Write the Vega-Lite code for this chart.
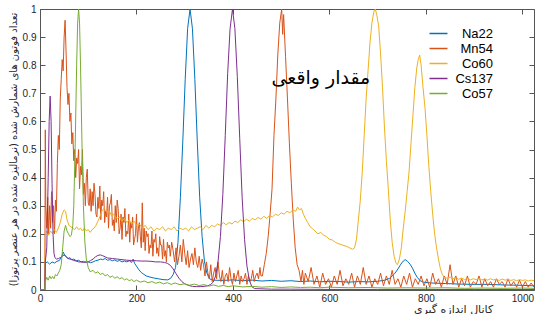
{
"$schema": "https://vega.github.io/schema/vega-lite/v6.json",
"width": 494, "height": 281,
"autosize": {"type": "none"},
"padding": {"left": 40, "top": 9, "right": 6, "bottom": 24},
"background": "white",
"config": {"view": {"stroke": null}, "font": "Liberation Sans"},
"datasets": {
"spectra": [
{"series":"Na22","x":0,"y":0},{"series":"Na22","x":10,"y":0},{"series":"Na22","x":11,"y":0.095},{"series":"Na22","x":15,"y":0.1},{"series":"Na22","x":20,"y":0.092},{"series":"Na22","x":25,"y":0.1},{"series":"Na22","x":30,"y":0.096},{"series":"Na22","x":35,"y":0.102},{"series":"Na22","x":40,"y":0.105},{"series":"Na22","x":45,"y":0.118},{"series":"Na22","x":48,"y":0.135},{"series":"Na22","x":51,"y":0.125},{"series":"Na22","x":54,"y":0.12},{"series":"Na22","x":58,"y":0.112},{"series":"Na22","x":62,"y":0.115},{"series":"Na22","x":66,"y":0.108},{"series":"Na22","x":70,"y":0.11},{"series":"Na22","x":75,"y":0.104},{"series":"Na22","x":80,"y":0.106},{"series":"Na22","x":85,"y":0.1},{"series":"Na22","x":90,"y":0.102},{"series":"Na22","x":95,"y":0.098},{"series":"Na22","x":100,"y":0.1},{"series":"Na22","x":105,"y":0.097},{"series":"Na22","x":110,"y":0.1},{"series":"Na22","x":115,"y":0.104},{"series":"Na22","x":120,"y":0.106},{"series":"Na22","x":125,"y":0.11},{"series":"Na22","x":130,"y":0.108},{"series":"Na22","x":135,"y":0.112},{"series":"Na22","x":140,"y":0.106},{"series":"Na22","x":145,"y":0.108},{"series":"Na22","x":150,"y":0.104},{"series":"Na22","x":155,"y":0.107},{"series":"Na22","x":160,"y":0.102},{"series":"Na22","x":165,"y":0.105},{"series":"Na22","x":170,"y":0.1},{"series":"Na22","x":175,"y":0.103},{"series":"Na22","x":180,"y":0.1},{"series":"Na22","x":185,"y":0.104},{"series":"Na22","x":190,"y":0.098},{"series":"Na22","x":193,"y":0.11},{"series":"Na22","x":196,"y":0.095},{"series":"Na22","x":200,"y":0.085},{"series":"Na22","x":205,"y":0.072},{"series":"Na22","x":210,"y":0.062},{"series":"Na22","x":215,"y":0.056},{"series":"Na22","x":220,"y":0.05},{"series":"Na22","x":228,"y":0.046},{"series":"Na22","x":235,"y":0.043},{"series":"Na22","x":245,"y":0.04},{"series":"Na22","x":255,"y":0.037},{"series":"Na22","x":265,"y":0.036},{"series":"Na22","x":271,"y":0.042},{"series":"Na22","x":276,"y":0.055},{"series":"Na22","x":281,"y":0.08},{"series":"Na22","x":286,"y":0.17},{"series":"Na22","x":291,"y":0.33},{"series":"Na22","x":296,"y":0.53},{"series":"Na22","x":301,"y":0.75},{"series":"Na22","x":306,"y":0.93},{"series":"Na22","x":311,"y":1.0},{"series":"Na22","x":316,"y":0.93},{"series":"Na22","x":321,"y":0.75},{"series":"Na22","x":326,"y":0.53},{"series":"Na22","x":331,"y":0.33},{"series":"Na22","x":336,"y":0.19},{"series":"Na22","x":341,"y":0.1},{"series":"Na22","x":346,"y":0.06},{"series":"Na22","x":351,"y":0.04},{"series":"Na22","x":360,"y":0.035},{"series":"Na22","x":380,"y":0.034},{"series":"Na22","x":400,"y":0.036},{"series":"Na22","x":420,"y":0.033},{"series":"Na22","x":440,"y":0.035},{"series":"Na22","x":460,"y":0.032},{"series":"Na22","x":480,"y":0.034},{"series":"Na22","x":500,"y":0.031},{"series":"Na22","x":520,"y":0.033},{"series":"Na22","x":540,"y":0.03},{"series":"Na22","x":560,"y":0.032},{"series":"Na22","x":580,"y":0.029},{"series":"Na22","x":600,"y":0.031},{"series":"Na22","x":620,"y":0.03},{"series":"Na22","x":640,"y":0.028},{"series":"Na22","x":660,"y":0.03},{"series":"Na22","x":680,"y":0.029},{"series":"Na22","x":700,"y":0.031},{"series":"Na22","x":715,"y":0.035},{"series":"Na22","x":725,"y":0.042},{"series":"Na22","x":735,"y":0.058},{"series":"Na22","x":742,"y":0.075},{"series":"Na22","x":748,"y":0.092},{"series":"Na22","x":753,"y":0.103},{"series":"Na22","x":757,"y":0.108},{"series":"Na22","x":762,"y":0.102},{"series":"Na22","x":767,"y":0.092},{"series":"Na22","x":772,"y":0.078},{"series":"Na22","x":777,"y":0.06},{"series":"Na22","x":782,"y":0.045},{"series":"Na22","x":788,"y":0.033},{"series":"Na22","x":795,"y":0.028},{"series":"Na22","x":810,"y":0.025},{"series":"Na22","x":840,"y":0.023},{"series":"Na22","x":870,"y":0.021},{"series":"Na22","x":900,"y":0.02},{"series":"Na22","x":930,"y":0.02},{"series":"Na22","x":960,"y":0.018},{"series":"Na22","x":990,"y":0.017},{"series":"Na22","x":1024,"y":0.015},
{"series":"Mn54","x":0,"y":0},{"series":"Mn54","x":10,"y":0},{"series":"Mn54","x":11,"y":0.57},{"series":"Mn54","x":12,"y":0.3},{"series":"Mn54","x":14,"y":0.22},{"series":"Mn54","x":16,"y":0.33},{"series":"Mn54","x":18,"y":0.2},{"series":"Mn54","x":20,"y":0.3},{"series":"Mn54","x":22,"y":0.22},{"series":"Mn54","x":24,"y":0.35},{"series":"Mn54","x":26,"y":0.24},{"series":"Mn54","x":28,"y":0.3},{"series":"Mn54","x":30,"y":0.2},{"series":"Mn54","x":32,"y":0.32},{"series":"Mn54","x":34,"y":0.28},{"series":"Mn54","x":36,"y":0.45},{"series":"Mn54","x":38,"y":0.55},{"series":"Mn54","x":40,"y":0.5},{"series":"Mn54","x":42,"y":0.68},{"series":"Mn54","x":44,"y":0.75},{"series":"Mn54","x":46,"y":0.82},{"series":"Mn54","x":48,"y":0.78},{"series":"Mn54","x":50,"y":0.9},{"series":"Mn54","x":52,"y":0.96},{"series":"Mn54","x":54,"y":0.85},{"series":"Mn54","x":56,"y":0.72},{"series":"Mn54","x":58,"y":0.66},{"series":"Mn54","x":60,"y":0.7},{"series":"Mn54","x":62,"y":0.6},{"series":"Mn54","x":64,"y":0.63},{"series":"Mn54","x":66,"y":0.52},{"series":"Mn54","x":68,"y":0.56},{"series":"Mn54","x":70,"y":0.46},{"series":"Mn54","x":72,"y":0.5},{"series":"Mn54","x":74,"y":0.4},{"series":"Mn54","x":76,"y":0.47},{"series":"Mn54","x":78,"y":0.45},{"series":"Mn54","x":80,"y":0.5},{"series":"Mn54","x":82,"y":0.36},{"series":"Mn54","x":84,"y":0.44},{"series":"Mn54","x":86,"y":0.41},{"series":"Mn54","x":88,"y":0.5},{"series":"Mn54","x":90,"y":0.34},{"series":"Mn54","x":92,"y":0.38},{"series":"Mn54","x":94,"y":0.3},{"series":"Mn54","x":96,"y":0.4},{"series":"Mn54","x":98,"y":0.43},{"series":"Mn54","x":100,"y":0.31},{"series":"Mn54","x":102,"y":0.3},{"series":"Mn54","x":104,"y":0.36},{"series":"Mn54","x":106,"y":0.28},{"series":"Mn54","x":108,"y":0.35},{"series":"Mn54","x":110,"y":0.3},{"series":"Mn54","x":112,"y":0.38},{"series":"Mn54","x":114,"y":0.34},{"series":"Mn54","x":116,"y":0.27},{"series":"Mn54","x":118,"y":0.26},{"series":"Mn54","x":120,"y":0.33},{"series":"Mn54","x":122,"y":0.29},{"series":"Mn54","x":124,"y":0.37},{"series":"Mn54","x":126,"y":0.25},{"series":"Mn54","x":128,"y":0.32},{"series":"Mn54","x":130,"y":0.3},{"series":"Mn54","x":132,"y":0.35},{"series":"Mn54","x":134,"y":0.24},{"series":"Mn54","x":136,"y":0.28},{"series":"Mn54","x":138,"y":0.26},{"series":"Mn54","x":140,"y":0.33},{"series":"Mn54","x":142,"y":0.22},{"series":"Mn54","x":144,"y":0.3},{"series":"Mn54","x":146,"y":0.31},{"series":"Mn54","x":148,"y":0.34},{"series":"Mn54","x":150,"y":0.23},{"series":"Mn54","x":152,"y":0.25},{"series":"Mn54","x":154,"y":0.21},{"series":"Mn54","x":156,"y":0.3},{"series":"Mn54","x":158,"y":0.24},{"series":"Mn54","x":160,"y":0.32},{"series":"Mn54","x":162,"y":0.29},{"series":"Mn54","x":164,"y":0.2},{"series":"Mn54","x":166,"y":0.22},{"series":"Mn54","x":168,"y":0.27},{"series":"Mn54","x":170,"y":0.18},{"series":"Mn54","x":172,"y":0.26},{"series":"Mn54","x":174,"y":0.24},{"series":"Mn54","x":176,"y":0.29},{"series":"Mn54","x":178,"y":0.19},{"series":"Mn54","x":180,"y":0.21},{"series":"Mn54","x":182,"y":0.2},{"series":"Mn54","x":184,"y":0.27},{"series":"Mn54","x":186,"y":0.17},{"series":"Mn54","x":188,"y":0.24},{"series":"Mn54","x":190,"y":0.22},{"series":"Mn54","x":192,"y":0.26},{"series":"Mn54","x":194,"y":0.16},{"series":"Mn54","x":196,"y":0.18},{"series":"Mn54","x":198,"y":0.2},{"series":"Mn54","x":200,"y":0.27},{"series":"Mn54","x":202,"y":0.17},{"series":"Mn54","x":204,"y":0.22},{"series":"Mn54","x":206,"y":0.24},{"series":"Mn54","x":208,"y":0.19},{"series":"Mn54","x":210,"y":0.15},{"series":"Mn54","x":212,"y":0.31},{"series":"Mn54","x":214,"y":0.17},{"series":"Mn54","x":216,"y":0.22},{"series":"Mn54","x":218,"y":0.14},{"series":"Mn54","x":220,"y":0.21},{"series":"Mn54","x":222,"y":0.19},{"series":"Mn54","x":224,"y":0.2},{"series":"Mn54","x":226,"y":0.13},{"series":"Mn54","x":228,"y":0.16},{"series":"Mn54","x":230,"y":0.15},{"series":"Mn54","x":232,"y":0.21},{"series":"Mn54","x":234,"y":0.12},{"series":"Mn54","x":236,"y":0.18},{"series":"Mn54","x":238,"y":0.17},{"series":"Mn54","x":240,"y":0.2},{"series":"Mn54","x":242,"y":0.13},{"series":"Mn54","x":244,"y":0.15},{"series":"Mn54","x":246,"y":0.12},{"series":"Mn54","x":248,"y":0.19},{"series":"Mn54","x":250,"y":0.16},{"series":"Mn54","x":252,"y":0.16},{"series":"Mn54","x":254,"y":0.11},{"series":"Mn54","x":256,"y":0.18},{"series":"Mn54","x":258,"y":0.12},{"series":"Mn54","x":260,"y":0.14},{"series":"Mn54","x":262,"y":0.1},{"series":"Mn54","x":264,"y":0.17},{"series":"Mn54","x":266,"y":0.15},{"series":"Mn54","x":268,"y":0.16},{"series":"Mn54","x":270,"y":0.12},{"series":"Mn54","x":273,"y":0.17},{"series":"Mn54","x":276,"y":0.14},{"series":"Mn54","x":279,"y":0.1},{"series":"Mn54","x":282,"y":0.15},{"series":"Mn54","x":285,"y":0.09},{"series":"Mn54","x":288,"y":0.12},{"series":"Mn54","x":291,"y":0.16},{"series":"Mn54","x":294,"y":0.1},{"series":"Mn54","x":297,"y":0.18},{"series":"Mn54","x":300,"y":0.13},{"series":"Mn54","x":303,"y":0.09},{"series":"Mn54","x":306,"y":0.14},{"series":"Mn54","x":309,"y":0.08},{"series":"Mn54","x":312,"y":0.11},{"series":"Mn54","x":315,"y":0.13},{"series":"Mn54","x":318,"y":0.09},{"series":"Mn54","x":321,"y":0.15},{"series":"Mn54","x":324,"y":0.1},{"series":"Mn54","x":327,"y":0.08},{"series":"Mn54","x":330,"y":0.12},{"series":"Mn54","x":333,"y":0.07},{"series":"Mn54","x":336,"y":0.11},{"series":"Mn54","x":339,"y":0.09},{"series":"Mn54","x":342,"y":0.05},{"series":"Mn54","x":345,"y":0.1},{"series":"Mn54","x":348,"y":0.06},{"series":"Mn54","x":351,"y":0.04},{"series":"Mn54","x":354,"y":0.09},{"series":"Mn54","x":357,"y":0.03},{"series":"Mn54","x":360,"y":0.06},{"series":"Mn54","x":363,"y":0.08},{"series":"Mn54","x":366,"y":0.04},{"series":"Mn54","x":369,"y":0.1},{"series":"Mn54","x":372,"y":0.05},{"series":"Mn54","x":375,"y":0.03},{"series":"Mn54","x":378,"y":0.07},{"series":"Mn54","x":381,"y":0.02},{"series":"Mn54","x":384,"y":0.05},{"series":"Mn54","x":387,"y":0.06},{"series":"Mn54","x":390,"y":0.03},{"series":"Mn54","x":393,"y":0.08},{"series":"Mn54","x":396,"y":0.04},{"series":"Mn54","x":399,"y":0.02},{"series":"Mn54","x":402,"y":0.06},{"series":"Mn54","x":405,"y":0.03},{"series":"Mn54","x":408,"y":0.05},{"series":"Mn54","x":411,"y":0.07},{"series":"Mn54","x":414,"y":0.02},{"series":"Mn54","x":417,"y":0.05},{"series":"Mn54","x":420,"y":0.03},{"series":"Mn54","x":423,"y":0.04},{"series":"Mn54","x":426,"y":0.06},{"series":"Mn54","x":429,"y":0.02},{"series":"Mn54","x":432,"y":0.05},{"series":"Mn54","x":435,"y":0.03},{"series":"Mn54","x":438,"y":0.04},{"series":"Mn54","x":441,"y":0.07},{"series":"Mn54","x":444,"y":0.03},{"series":"Mn54","x":447,"y":0.05},{"series":"Mn54","x":450,"y":0.06},{"series":"Mn54","x":453,"y":0.04},{"series":"Mn54","x":456,"y":0.08},{"series":"Mn54","x":458,"y":0.05},{"series":"Mn54","x":461,"y":0.05},{"series":"Mn54","x":465,"y":0.09},{"series":"Mn54","x":469,"y":0.13},{"series":"Mn54","x":473,"y":0.19},{"series":"Mn54","x":477,"y":0.27},{"series":"Mn54","x":481,"y":0.36},{"series":"Mn54","x":485,"y":0.55},{"series":"Mn54","x":489,"y":0.68},{"series":"Mn54","x":493,"y":0.84},{"series":"Mn54","x":497,"y":0.95},{"series":"Mn54","x":501,"y":1.0},{"series":"Mn54","x":503,"y":0.91},{"series":"Mn54","x":505,"y":0.98},{"series":"Mn54","x":509,"y":0.83},{"series":"Mn54","x":513,"y":0.68},{"series":"Mn54","x":517,"y":0.52},{"series":"Mn54","x":521,"y":0.38},{"series":"Mn54","x":525,"y":0.25},{"series":"Mn54","x":529,"y":0.15},{"series":"Mn54","x":533,"y":0.09},{"series":"Mn54","x":537,"y":0.07},{"series":"Mn54","x":541,"y":0.03},{"series":"Mn54","x":544,"y":0.07},{"series":"Mn54","x":547,"y":0.02},{"series":"Mn54","x":550,"y":0.06},{"series":"Mn54","x":556,"y":0.03},{"series":"Mn54","x":562,"y":0.08},{"series":"Mn54","x":568,"y":0.02},{"series":"Mn54","x":574,"y":0.05},{"series":"Mn54","x":580,"y":0.01},{"series":"Mn54","x":586,"y":0.06},{"series":"Mn54","x":592,"y":0.02},{"series":"Mn54","x":598,"y":0.04},{"series":"Mn54","x":604,"y":0.01},{"series":"Mn54","x":610,"y":0.05},{"series":"Mn54","x":616,"y":0.02},{"series":"Mn54","x":622,"y":0.07},{"series":"Mn54","x":628,"y":0.015},{"series":"Mn54","x":634,"y":0.04},{"series":"Mn54","x":640,"y":0.02},{"series":"Mn54","x":646,"y":0.06},{"series":"Mn54","x":652,"y":0.01},{"series":"Mn54","x":658,"y":0.05},{"series":"Mn54","x":664,"y":0.02},{"series":"Mn54","x":670,"y":0.08},{"series":"Mn54","x":676,"y":0.02},{"series":"Mn54","x":682,"y":0.05},{"series":"Mn54","x":688,"y":0.01},{"series":"Mn54","x":694,"y":0.04},{"series":"Mn54","x":700,"y":0.02},{"series":"Mn54","x":706,"y":0.06},{"series":"Mn54","x":712,"y":0.015},{"series":"Mn54","x":718,"y":0.05},{"series":"Mn54","x":724,"y":0.02},{"series":"Mn54","x":730,"y":0.07},{"series":"Mn54","x":736,"y":0.02},{"series":"Mn54","x":742,"y":0.04},{"series":"Mn54","x":748,"y":0.01},{"series":"Mn54","x":754,"y":0.05},{"series":"Mn54","x":760,"y":0.02},{"series":"Mn54","x":766,"y":0.06},{"series":"Mn54","x":772,"y":0.01},{"series":"Mn54","x":778,"y":0.04},{"series":"Mn54","x":784,"y":0.02},{"series":"Mn54","x":790,"y":0.05},{"series":"Mn54","x":796,"y":0.015},{"series":"Mn54","x":802,"y":0.04},{"series":"Mn54","x":808,"y":0.01},{"series":"Mn54","x":814,"y":0.06},{"series":"Mn54","x":820,"y":0.02},{"series":"Mn54","x":826,"y":0.04},{"series":"Mn54","x":832,"y":0.01},{"series":"Mn54","x":838,"y":0.05},{"series":"Mn54","x":844,"y":0.02},{"series":"Mn54","x":850,"y":0.09},{"series":"Mn54","x":856,"y":0.02},{"series":"Mn54","x":862,"y":0.05},{"series":"Mn54","x":868,"y":0.01},{"series":"Mn54","x":874,"y":0.04},{"series":"Mn54","x":880,"y":0.015},{"series":"Mn54","x":886,"y":0.05},{"series":"Mn54","x":892,"y":0.01},{"series":"Mn54","x":898,"y":0.03},{"series":"Mn54","x":904,"y":0.02},{"series":"Mn54","x":910,"y":0.05},{"series":"Mn54","x":916,"y":0.01},{"series":"Mn54","x":922,"y":0.04},{"series":"Mn54","x":928,"y":0.015},{"series":"Mn54","x":934,"y":0.03},{"series":"Mn54","x":940,"y":0.01},{"series":"Mn54","x":946,"y":0.04},{"series":"Mn54","x":952,"y":0.02},{"series":"Mn54","x":958,"y":0.03},{"series":"Mn54","x":964,"y":0.01},{"series":"Mn54","x":970,"y":0.04},{"series":"Mn54","x":976,"y":0.015},{"series":"Mn54","x":982,"y":0.03},{"series":"Mn54","x":988,"y":0.01},{"series":"Mn54","x":994,"y":0.035},{"series":"Mn54","x":1000,"y":0.01},{"series":"Mn54","x":1006,"y":0.03},{"series":"Mn54","x":1012,"y":0.01},{"series":"Mn54","x":1018,"y":0.025},{"series":"Mn54","x":1024,"y":0.01},
{"series":"Co60","x":0,"y":0},{"series":"Co60","x":10,"y":0},{"series":"Co60","x":11,"y":0.2},{"series":"Co60","x":14,"y":0.21},{"series":"Co60","x":18,"y":0.195},{"series":"Co60","x":22,"y":0.21},{"series":"Co60","x":26,"y":0.2},{"series":"Co60","x":30,"y":0.215},{"series":"Co60","x":34,"y":0.205},{"series":"Co60","x":38,"y":0.22},{"series":"Co60","x":42,"y":0.24},{"series":"Co60","x":46,"y":0.27},{"series":"Co60","x":50,"y":0.285},{"series":"Co60","x":53,"y":0.28},{"series":"Co60","x":56,"y":0.25},{"series":"Co60","x":60,"y":0.23},{"series":"Co60","x":64,"y":0.225},{"series":"Co60","x":68,"y":0.22},{"series":"Co60","x":72,"y":0.215},{"series":"Co60","x":76,"y":0.225},{"series":"Co60","x":80,"y":0.215},{"series":"Co60","x":84,"y":0.22},{"series":"Co60","x":88,"y":0.21},{"series":"Co60","x":92,"y":0.22},{"series":"Co60","x":96,"y":0.21},{"series":"Co60","x":100,"y":0.215},{"series":"Co60","x":104,"y":0.205},{"series":"Co60","x":108,"y":0.215},{"series":"Co60","x":112,"y":0.22},{"series":"Co60","x":116,"y":0.23},{"series":"Co60","x":120,"y":0.245},{"series":"Co60","x":124,"y":0.26},{"series":"Co60","x":128,"y":0.28},{"series":"Co60","x":132,"y":0.29},{"series":"Co60","x":136,"y":0.285},{"series":"Co60","x":140,"y":0.275},{"series":"Co60","x":144,"y":0.28},{"series":"Co60","x":148,"y":0.265},{"series":"Co60","x":152,"y":0.27},{"series":"Co60","x":156,"y":0.26},{"series":"Co60","x":160,"y":0.255},{"series":"Co60","x":165,"y":0.26},{"series":"Co60","x":170,"y":0.245},{"series":"Co60","x":175,"y":0.255},{"series":"Co60","x":180,"y":0.24},{"series":"Co60","x":185,"y":0.25},{"series":"Co60","x":190,"y":0.235},{"series":"Co60","x":195,"y":0.245},{"series":"Co60","x":200,"y":0.23},{"series":"Co60","x":206,"y":0.235},{"series":"Co60","x":212,"y":0.22},{"series":"Co60","x":218,"y":0.23},{"series":"Co60","x":224,"y":0.215},{"series":"Co60","x":230,"y":0.225},{"series":"Co60","x":236,"y":0.21},{"series":"Co60","x":242,"y":0.22},{"series":"Co60","x":248,"y":0.215},{"series":"Co60","x":254,"y":0.225},{"series":"Co60","x":260,"y":0.21},{"series":"Co60","x":266,"y":0.22},{"series":"Co60","x":272,"y":0.215},{"series":"Co60","x":278,"y":0.225},{"series":"Co60","x":284,"y":0.21},{"series":"Co60","x":290,"y":0.22},{"series":"Co60","x":296,"y":0.215},{"series":"Co60","x":302,"y":0.22},{"series":"Co60","x":308,"y":0.21},{"series":"Co60","x":314,"y":0.225},{"series":"Co60","x":320,"y":0.215},{"series":"Co60","x":326,"y":0.22},{"series":"Co60","x":332,"y":0.225},{"series":"Co60","x":338,"y":0.215},{"series":"Co60","x":344,"y":0.23},{"series":"Co60","x":350,"y":0.22},{"series":"Co60","x":356,"y":0.23},{"series":"Co60","x":362,"y":0.225},{"series":"Co60","x":368,"y":0.235},{"series":"Co60","x":374,"y":0.23},{"series":"Co60","x":380,"y":0.24},{"series":"Co60","x":386,"y":0.232},{"series":"Co60","x":392,"y":0.24},{"series":"Co60","x":398,"y":0.235},{"series":"Co60","x":404,"y":0.245},{"series":"Co60","x":410,"y":0.24},{"series":"Co60","x":416,"y":0.25},{"series":"Co60","x":422,"y":0.243},{"series":"Co60","x":428,"y":0.252},{"series":"Co60","x":434,"y":0.245},{"series":"Co60","x":440,"y":0.255},{"series":"Co60","x":446,"y":0.25},{"series":"Co60","x":452,"y":0.258},{"series":"Co60","x":458,"y":0.252},{"series":"Co60","x":464,"y":0.262},{"series":"Co60","x":470,"y":0.255},{"series":"Co60","x":476,"y":0.265},{"series":"Co60","x":482,"y":0.26},{"series":"Co60","x":488,"y":0.27},{"series":"Co60","x":494,"y":0.265},{"series":"Co60","x":500,"y":0.275},{"series":"Co60","x":506,"y":0.27},{"series":"Co60","x":512,"y":0.28},{"series":"Co60","x":518,"y":0.275},{"series":"Co60","x":524,"y":0.285},{"series":"Co60","x":530,"y":0.28},{"series":"Co60","x":534,"y":0.295},{"series":"Co60","x":538,"y":0.285},{"series":"Co60","x":542,"y":0.29},{"series":"Co60","x":546,"y":0.27},{"series":"Co60","x":550,"y":0.255},{"series":"Co60","x":555,"y":0.24},{"series":"Co60","x":560,"y":0.225},{"series":"Co60","x":565,"y":0.218},{"series":"Co60","x":570,"y":0.21},{"series":"Co60","x":576,"y":0.2},{"series":"Co60","x":582,"y":0.205},{"series":"Co60","x":588,"y":0.195},{"series":"Co60","x":594,"y":0.19},{"series":"Co60","x":600,"y":0.18},{"series":"Co60","x":606,"y":0.178},{"series":"Co60","x":612,"y":0.17},{"series":"Co60","x":618,"y":0.165},{"series":"Co60","x":624,"y":0.162},{"series":"Co60","x":630,"y":0.158},{"series":"Co60","x":636,"y":0.155},{"series":"Co60","x":642,"y":0.15},{"series":"Co60","x":648,"y":0.145},{"series":"Co60","x":652,"y":0.15},{"series":"Co60","x":656,"y":0.18},{"series":"Co60","x":660,"y":0.25},{"series":"Co60","x":664,"y":0.32},{"series":"Co60","x":668,"y":0.42},{"series":"Co60","x":672,"y":0.55},{"series":"Co60","x":676,"y":0.68},{"series":"Co60","x":680,"y":0.78},{"series":"Co60","x":684,"y":0.88},{"series":"Co60","x":688,"y":0.95},{"series":"Co60","x":692,"y":0.99},{"series":"Co60","x":695,"y":1.0},{"series":"Co60","x":698,"y":0.98},{"series":"Co60","x":702,"y":0.94},{"series":"Co60","x":706,"y":0.84},{"series":"Co60","x":710,"y":0.72},{"series":"Co60","x":714,"y":0.58},{"series":"Co60","x":718,"y":0.46},{"series":"Co60","x":722,"y":0.36},{"series":"Co60","x":726,"y":0.25},{"series":"Co60","x":730,"y":0.17},{"series":"Co60","x":734,"y":0.12},{"series":"Co60","x":738,"y":0.095},{"series":"Co60","x":741,"y":0.09},{"series":"Co60","x":745,"y":0.11},{"series":"Co60","x":749,"y":0.15},{"series":"Co60","x":753,"y":0.22},{"series":"Co60","x":757,"y":0.28},{"series":"Co60","x":761,"y":0.35},{"series":"Co60","x":765,"y":0.42},{"series":"Co60","x":769,"y":0.52},{"series":"Co60","x":773,"y":0.62},{"series":"Co60","x":777,"y":0.72},{"series":"Co60","x":781,"y":0.79},{"series":"Co60","x":784,"y":0.82},{"series":"Co60","x":787,"y":0.836},{"series":"Co60","x":790,"y":0.8},{"series":"Co60","x":794,"y":0.72},{"series":"Co60","x":798,"y":0.65},{"series":"Co60","x":802,"y":0.55},{"series":"Co60","x":806,"y":0.44},{"series":"Co60","x":810,"y":0.35},{"series":"Co60","x":814,"y":0.27},{"series":"Co60","x":818,"y":0.2},{"series":"Co60","x":822,"y":0.15},{"series":"Co60","x":826,"y":0.11},{"series":"Co60","x":830,"y":0.075},{"series":"Co60","x":834,"y":0.055},{"series":"Co60","x":838,"y":0.045},{"series":"Co60","x":844,"y":0.042},{"series":"Co60","x":850,"y":0.046},{"series":"Co60","x":856,"y":0.04},{"series":"Co60","x":862,"y":0.044},{"series":"Co60","x":868,"y":0.038},{"series":"Co60","x":874,"y":0.043},{"series":"Co60","x":880,"y":0.037},{"series":"Co60","x":886,"y":0.041},{"series":"Co60","x":892,"y":0.036},{"series":"Co60","x":898,"y":0.04},{"series":"Co60","x":904,"y":0.037},{"series":"Co60","x":910,"y":0.041},{"series":"Co60","x":916,"y":0.036},{"series":"Co60","x":922,"y":0.039},{"series":"Co60","x":928,"y":0.035},{"series":"Co60","x":934,"y":0.04},{"series":"Co60","x":940,"y":0.036},{"series":"Co60","x":946,"y":0.038},{"series":"Co60","x":952,"y":0.034},{"series":"Co60","x":958,"y":0.039},{"series":"Co60","x":964,"y":0.035},{"series":"Co60","x":970,"y":0.038},{"series":"Co60","x":976,"y":0.034},{"series":"Co60","x":982,"y":0.037},{"series":"Co60","x":988,"y":0.033},{"series":"Co60","x":994,"y":0.037},{"series":"Co60","x":1000,"y":0.034},{"series":"Co60","x":1006,"y":0.036},{"series":"Co60","x":1012,"y":0.032},{"series":"Co60","x":1018,"y":0.035},{"series":"Co60","x":1024,"y":0.033},
{"series":"Cs137","x":0,"y":0},{"series":"Cs137","x":10,"y":0},{"series":"Cs137","x":11,"y":0.1},{"series":"Cs137","x":14,"y":0.15},{"series":"Cs137","x":17,"y":0.4},{"series":"Cs137","x":19,"y":0.6},{"series":"Cs137","x":21,"y":0.69},{"series":"Cs137","x":23,"y":0.6},{"series":"Cs137","x":25,"y":0.38},{"series":"Cs137","x":27,"y":0.2},{"series":"Cs137","x":29,"y":0.13},{"series":"Cs137","x":31,"y":0.115},{"series":"Cs137","x":34,"y":0.11},{"series":"Cs137","x":38,"y":0.112},{"series":"Cs137","x":42,"y":0.115},{"series":"Cs137","x":46,"y":0.12},{"series":"Cs137","x":50,"y":0.125},{"series":"Cs137","x":54,"y":0.118},{"series":"Cs137","x":58,"y":0.112},{"series":"Cs137","x":62,"y":0.11},{"series":"Cs137","x":66,"y":0.108},{"series":"Cs137","x":70,"y":0.105},{"series":"Cs137","x":75,"y":0.103},{"series":"Cs137","x":80,"y":0.1},{"series":"Cs137","x":85,"y":0.1},{"series":"Cs137","x":90,"y":0.098},{"series":"Cs137","x":95,"y":0.1},{"series":"Cs137","x":100,"y":0.1},{"series":"Cs137","x":105,"y":0.105},{"series":"Cs137","x":110,"y":0.11},{"series":"Cs137","x":115,"y":0.118},{"series":"Cs137","x":120,"y":0.123},{"series":"Cs137","x":125,"y":0.125},{"series":"Cs137","x":130,"y":0.122},{"series":"Cs137","x":135,"y":0.118},{"series":"Cs137","x":140,"y":0.114},{"series":"Cs137","x":150,"y":0.112},{"series":"Cs137","x":160,"y":0.11},{"series":"Cs137","x":170,"y":0.108},{"series":"Cs137","x":180,"y":0.106},{"series":"Cs137","x":190,"y":0.105},{"series":"Cs137","x":200,"y":0.104},{"series":"Cs137","x":210,"y":0.103},{"series":"Cs137","x":220,"y":0.103},{"series":"Cs137","x":230,"y":0.102},{"series":"Cs137","x":240,"y":0.1},{"series":"Cs137","x":250,"y":0.1},{"series":"Cs137","x":258,"y":0.098},{"series":"Cs137","x":264,"y":0.095},{"series":"Cs137","x":270,"y":0.088},{"series":"Cs137","x":276,"y":0.075},{"series":"Cs137","x":282,"y":0.058},{"series":"Cs137","x":288,"y":0.042},{"series":"Cs137","x":294,"y":0.03},{"series":"Cs137","x":300,"y":0.022},{"series":"Cs137","x":308,"y":0.016},{"series":"Cs137","x":316,"y":0.013},{"series":"Cs137","x":324,"y":0.012},{"series":"Cs137","x":332,"y":0.012},{"series":"Cs137","x":340,"y":0.013},{"series":"Cs137","x":348,"y":0.015},{"series":"Cs137","x":354,"y":0.02},{"series":"Cs137","x":359,"y":0.028},{"series":"Cs137","x":364,"y":0.05},{"series":"Cs137","x":369,"y":0.1},{"series":"Cs137","x":374,"y":0.19},{"series":"Cs137","x":379,"y":0.34},{"series":"Cs137","x":384,"y":0.55},{"series":"Cs137","x":389,"y":0.77},{"series":"Cs137","x":394,"y":0.93},{"series":"Cs137","x":399,"y":1.0},{"series":"Cs137","x":404,"y":0.93},{"series":"Cs137","x":409,"y":0.76},{"series":"Cs137","x":414,"y":0.54},{"series":"Cs137","x":419,"y":0.33},{"series":"Cs137","x":424,"y":0.18},{"series":"Cs137","x":429,"y":0.085},{"series":"Cs137","x":434,"y":0.035},{"series":"Cs137","x":439,"y":0.012},{"series":"Cs137","x":445,"y":0.005},{"series":"Cs137","x":480,"y":0.003},{"series":"Cs137","x":520,"y":0.003},{"series":"Cs137","x":600,"y":0.002},{"series":"Cs137","x":700,"y":0.002},{"series":"Cs137","x":800,"y":0.002},{"series":"Cs137","x":900,"y":0.002},{"series":"Cs137","x":1024,"y":0.002},
{"series":"Co57","x":0,"y":0},{"series":"Co57","x":10,"y":0},{"series":"Co57","x":11,"y":0.03},{"series":"Co57","x":14,"y":0.045},{"series":"Co57","x":17,"y":0.035},{"series":"Co57","x":20,"y":0.05},{"series":"Co57","x":23,"y":0.04},{"series":"Co57","x":26,"y":0.048},{"series":"Co57","x":29,"y":0.04},{"series":"Co57","x":32,"y":0.055},{"series":"Co57","x":35,"y":0.05},{"series":"Co57","x":38,"y":0.06},{"series":"Co57","x":41,"y":0.07},{"series":"Co57","x":44,"y":0.09},{"series":"Co57","x":47,"y":0.15},{"series":"Co57","x":50,"y":0.21},{"series":"Co57","x":53,"y":0.23},{"series":"Co57","x":56,"y":0.21},{"series":"Co57","x":59,"y":0.2},{"series":"Co57","x":62,"y":0.19},{"series":"Co57","x":65,"y":0.195},{"series":"Co57","x":68,"y":0.23},{"series":"Co57","x":70,"y":0.3},{"series":"Co57","x":73,"y":0.52},{"series":"Co57","x":76,"y":0.8},{"series":"Co57","x":78,"y":0.95},{"series":"Co57","x":80,"y":1.0},{"series":"Co57","x":82,"y":0.95},{"series":"Co57","x":84,"y":0.8},{"series":"Co57","x":87,"y":0.52},{"series":"Co57","x":90,"y":0.3},{"series":"Co57","x":93,"y":0.17},{"series":"Co57","x":96,"y":0.11},{"series":"Co57","x":100,"y":0.08},{"series":"Co57","x":104,"y":0.065},{"series":"Co57","x":110,"y":0.07},{"series":"Co57","x":115,"y":0.06},{"series":"Co57","x":120,"y":0.065},{"series":"Co57","x":125,"y":0.055},{"series":"Co57","x":130,"y":0.06},{"series":"Co57","x":135,"y":0.05},{"series":"Co57","x":140,"y":0.055},{"series":"Co57","x":145,"y":0.045},{"series":"Co57","x":150,"y":0.05},{"series":"Co57","x":155,"y":0.042},{"series":"Co57","x":160,"y":0.047},{"series":"Co57","x":165,"y":0.04},{"series":"Co57","x":170,"y":0.044},{"series":"Co57","x":175,"y":0.036},{"series":"Co57","x":180,"y":0.04},{"series":"Co57","x":185,"y":0.033},{"series":"Co57","x":190,"y":0.037},{"series":"Co57","x":195,"y":0.03},{"series":"Co57","x":200,"y":0.035},{"series":"Co57","x":208,"y":0.028},{"series":"Co57","x":216,"y":0.032},{"series":"Co57","x":224,"y":0.026},{"series":"Co57","x":232,"y":0.03},{"series":"Co57","x":240,"y":0.024},{"series":"Co57","x":248,"y":0.028},{"series":"Co57","x":256,"y":0.022},{"series":"Co57","x":264,"y":0.026},{"series":"Co57","x":272,"y":0.02},{"series":"Co57","x":280,"y":0.025},{"series":"Co57","x":290,"y":0.019},{"series":"Co57","x":300,"y":0.022},{"series":"Co57","x":310,"y":0.017},{"series":"Co57","x":320,"y":0.021},{"series":"Co57","x":330,"y":0.016},{"series":"Co57","x":340,"y":0.019},{"series":"Co57","x":350,"y":0.014},{"series":"Co57","x":360,"y":0.018},{"series":"Co57","x":370,"y":0.013},{"series":"Co57","x":380,"y":0.016},{"series":"Co57","x":390,"y":0.012},{"series":"Co57","x":400,"y":0.015},{"series":"Co57","x":420,"y":0.011},{"series":"Co57","x":440,"y":0.013},{"series":"Co57","x":460,"y":0.01},{"series":"Co57","x":480,"y":0.012},{"series":"Co57","x":500,"y":0.009},{"series":"Co57","x":520,"y":0.011},{"series":"Co57","x":540,"y":0.009},{"series":"Co57","x":560,"y":0.01},{"series":"Co57","x":580,"y":0.008},{"series":"Co57","x":600,"y":0.01},{"series":"Co57","x":640,"y":0.008},{"series":"Co57","x":680,"y":0.009},{"series":"Co57","x":720,"y":0.007},{"series":"Co57","x":760,"y":0.008},{"series":"Co57","x":800,"y":0.007},{"series":"Co57","x":840,"y":0.008},{"series":"Co57","x":880,"y":0.006},{"series":"Co57","x":920,"y":0.007},{"series":"Co57","x":960,"y":0.006},{"series":"Co57","x":1000,"y":0.007},{"series":"Co57","x":1024,"y":0.006}
],
"note": [{"x": 582, "y": 0.755, "label": "مقدار واقعی"}]
},
"layer": [
{
"data": {"name": "spectra"},
"mark": {"type": "line", "strokeWidth": 1, "clip": true},
"encoding": {
"x": {"field": "x", "type": "quantitative",
"scale": {"domain": [0, 1024], "nice": false, "zero": false},
"axis": {"orient": "bottom", "values": [0, 200, 400, 600, 800, 1000], "format": "d", "grid": false,
"title": "کانال اندازه گیری", "titleX": 413, "titleY": 19, "titleAlign": "center", "titleBaseline": "middle", "titleAngle": 0,
"titleFontSize": 11, "titleFontWeight": "normal", "titleColor": "#262626", "titleFont": "DejaVu Sans",
"labelFontSize": 10, "labelColor": "#262626", "labelFlush": false,
"tickSize": -5, "labelPadding": 8, "domainColor": "#555555", "tickColor": "#555555"}},
"y": {"field": "y", "type": "quantitative",
"scale": {"domain": [0, 1], "nice": false},
"axis": {"orient": "left", "values": [0, 0.1, 0.2, 0.3, 0.4, 0.5, 0.6, 0.7, 0.8, 0.9, 1], "format": "~g", "grid": false,
"title": "تعداد فوتون های شمارش شده (نرمالیزه شده در هر عنصر پرتوزا)", "titleX": -27, "titleY": 140, "titleAngle": 270, "titleAlign": "center", "titleBaseline": "middle", "titleLimit": 0,
"titleFontSize": 10, "titleFontWeight": "normal", "titleColor": "#262626", "titleFont": "DejaVu Sans",
"labelFontSize": 10, "labelColor": "#262626", "labelFlush": false,
"tickSize": -5, "labelPadding": 9, "domainColor": "#555555", "tickColor": "#555555"}},
"color": {"field": "series", "type": "nominal",
"scale": {"domain": ["Na22", "Mn54", "Co60", "Cs137", "Co57"], "range": ["#0072BD", "#D95319", "#EDB120", "#7E2F8E", "#77AC30"]},
"legend": {"orient": "none", "legendX": 392, "legendY": 18, "title": null, "padding": 0,
"symbolType": "M-1.8,0H1.8", "symbolStrokeWidth": 1.5, "symbolSize": 100, "symbolFillColor": "transparent",
"labelFontSize": 13, "labelColor": "#000000", "labelAlign": "right", "labelOffset": 48, "labelLimit": 0,
"rowPadding": 1}}
}
},
{
"data": {"name": "note"},
"mark": {"type": "text", "fontSize": 19, "font": "DejaVu Sans", "color": "#000000", "align": "center", "baseline": "middle"},
"encoding": {
"x": {"field": "x", "type": "quantitative", "scale": {"domain": [0, 1024], "nice": false, "zero": false},
"axis": {"orient": "top", "values": [0, 200, 400, 600, 800, 1000], "labels": false, "title": null, "grid": false,
"tickSize": -5, "domainColor": "#555555", "tickColor": "#555555"}},
"y": {"field": "y", "type": "quantitative", "scale": {"domain": [0, 1], "nice": false},
"axis": {"orient": "right", "values": [0, 0.1, 0.2, 0.3, 0.4, 0.5, 0.6, 0.7, 0.8, 0.9, 1], "labels": false, "title": null, "grid": false,
"tickSize": -5, "domainColor": "#555555", "tickColor": "#555555"}},
"text": {"field": "label"}
}
}
],
"resolve": {"axis": {"x": "independent", "y": "independent"}}
}
